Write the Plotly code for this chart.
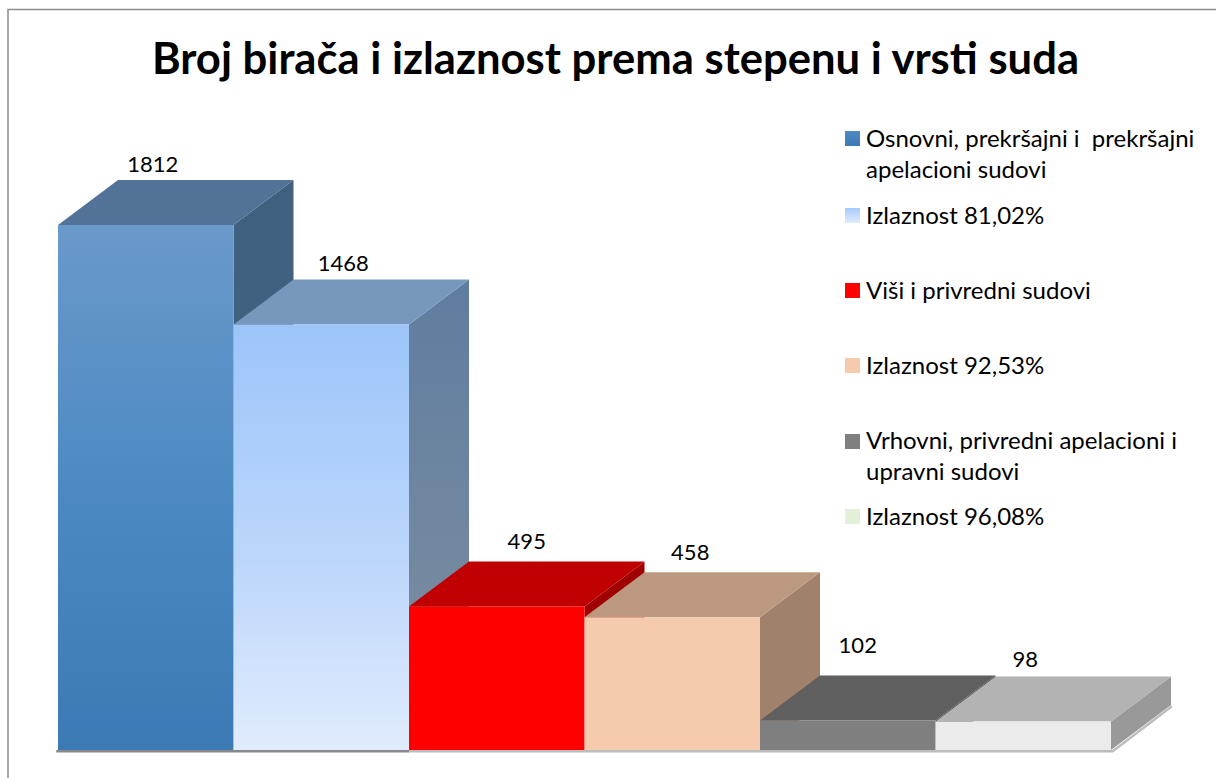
import plotly.graph_objects as go

# --- data ---
title_text = "Broj birača i izlaznost prema stepenu i vrsti suda"
categories = ["Osnovni, prekršajni i\u00a0 prekršajni<br>apelacioni sudovi", "Izlaznost 81,02%",
              "Viši i privredni sudovi", "Izlaznost 92,53%",
              "Vrhovni, privredni apelacioni i<br>upravni sudovi", "Izlaznost 96,08%"]
values = [1812, 1468, 495, 458, 102, 98]

# --- styles ---
front_top = ["#6A99CB", "#9CC5FA", "#FF0000", "#F6CBAD", "#7F7F7F", "#EBEBEB"]
front_mid = ["#4A88C2", "#BCD6FB", "#FF0000", "#F6CBAD", "#7F7F7F", "#EBEBEB"]
front_bot = ["#3C7AB5", "#E1ECFD", "#FF0000", "#F6CBAD", "#7F7F7F", "#EBEBEB"]
top_color = ["#527397", "#7797BC", "#C00000", "#BD9880", "#5F5F5F", "#B3B3B3"]
side_top = ["#40607F", "#5F7DA0", "#A00000", "#A0816C", "#4A4A4A", "#999999"]
side_bot = ["#426286", "#80909F", "#A00000", "#A0816C", "#4A4A4A", "#999999"]
swatch_top = ["#4F89C0", "#A5CBFB", "#FF0000", "#F6CBAD", "#7F7F7F", "#E2EFD9"]
swatch_bot = ["#3C7AB5", "#E1ECFD", "#FF0000", "#F6CBAD", "#7F7F7F", "#E2EFD9"]

FONT = "Lato"
W, H = 1216, 778
PX_X = 175.5        # px per category
PX_Y = 0.2898       # px per value unit
LEFT = 58           # px of first bar's left edge
BASE = 750          # px of zero line
DX = 60 / PX_X      # depth, category units
DY = 45 / PX_Y      # depth, value units

label_dx_px = [7, 22, 30, 18, 10, 2]
label_dy_px = [13, 14, 18, 18, 28, 15]
legend_y = [153, 214, 289, 364, 455, 515]
swatch_y = [139, 216, 291, 366, 442, 517]

fig = go.Figure()


def poly(xs, ys, color=None, grad=None, xa="x", ya="y"):
    kw = dict(x=xs, y=ys, mode="lines", fill="toself", line=dict(width=0),
              hoverinfo="skip", showlegend=False, xaxis=xa, yaxis=ya)
    if grad:
        kw["fillgradient"] = grad
    else:
        kw["fillcolor"] = color
    fig.add_trace(go.Scatter(**kw))


# floor edge
fig.add_trace(go.Scatter(x=[-0.51, 1.5], y=[-4, -4], mode="lines", line=dict(color="#8A8A8A", width=2.5),
                         hoverinfo="skip", showlegend=False))
fig.add_trace(go.Scatter(x=[1.5, 5.51, 5.5 + DX + 0.005], y=[-4, -4, DY - 4], mode="lines",
                         line=dict(color="#BDBDBD", width=2.5), hoverinfo="skip", showlegend=False))

for i, v in enumerate(values):
    l, r = i - 0.5, i + 0.5
    # side
    poly([r, r + DX, r + DX, r, r], [0, DY, v + DY, v, 0],
         grad=dict(type="vertical", start=v + DY, stop=0,
                   colorscale=[[0, side_top[i]], [1, side_bot[i]]]))
    # top
    poly([l, l + DX, r + DX, r, l], [v, v + DY, v + DY, v, v], color=top_color[i])
    # front
    poly([l, r, r, l, l], [0, 0, v, v, 0],
         grad=dict(type="vertical", start=v, stop=0,
                   colorscale=[[0, front_top[i]], [0.55, front_mid[i]], [1, front_bot[i]]]))

# data labels
fig.add_trace(go.Scatter(
    x=[i + label_dx_px[i] / PX_X for i in range(len(values))],
    y=[v + DY + label_dy_px[i] / PX_Y for i, v in enumerate(values)],
    text=[str(v) for v in values], mode="text", textposition="middle center",
    textfont=dict(family=FONT, size=22, color="#000000"), hoverinfo="skip", showlegend=False))

# legend swatches on a pixel overlay
for i, sy in enumerate(swatch_y):
    poly([845, 860, 860, 845, 845], [sy - 8, sy - 8, sy + 7, sy + 7, sy - 8],
         grad=dict(type="vertical", start=sy - 8, stop=sy + 7,
                   colorscale=[[0, swatch_top[i]], [1, swatch_bot[i]]]),
         xa="x2", ya="y2")

annotations = []
for name, ly in zip(categories, legend_y):
    annotations.append(dict(x=864, y=ly, xref="x2", yref="y2", text=name, showarrow=False,
                            xanchor="left", yanchor="middle", align="left",
                            font=dict(family=FONT, size=24, color="#000000")))

# chart frame
fig.add_trace(go.Scatter(x=[8, 8, 1216], y=[778, 9.5, 9.5], mode="lines", xaxis="x2", yaxis="y2",
                         line=dict(color="#8C8C8C", width=1.5), hoverinfo="skip", showlegend=False))

hidden = dict(visible=False, showgrid=False, zeroline=False, fixedrange=True)
fig.update_layout(
    width=W, height=H, margin=dict(l=0, r=0, t=0, b=0),
    paper_bgcolor="#FFFFFF", plot_bgcolor="#FFFFFF", showlegend=False,
    title=dict(text="<b>" + title_text + "</b>", x=615.5 / W, xanchor="center",
               y=1 - 59 / H, yanchor="middle",
               font=dict(family=FONT, size=43.6, color="#000000")),
    xaxis=dict(range=[-0.5 - LEFT / PX_X, -0.5 + (W - LEFT) / PX_X], **hidden),
    yaxis=dict(range=[-(H - BASE) / PX_Y, BASE / PX_Y], **hidden),
    xaxis2=dict(range=[0, W], overlaying="x", anchor="y2", **hidden),
    yaxis2=dict(range=[H, 0], overlaying="y", anchor="x2", **hidden),
    annotations=annotations,
)

fig.write_html("out.html", config={"displayModeBar": False},
               post_script="document.body.style.margin='0';document.body.style.overflow='hidden';")
